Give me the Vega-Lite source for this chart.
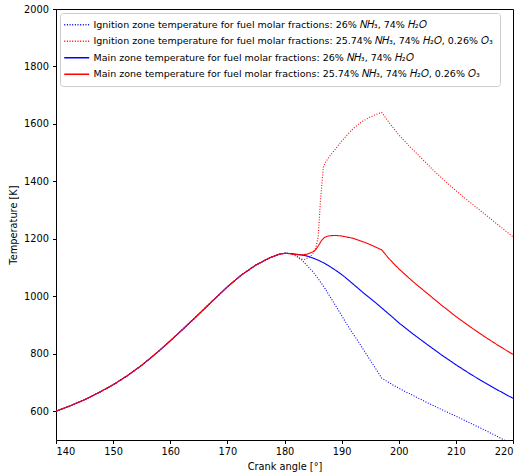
{
  "$schema": "https://vega.github.io/schema/vega-lite/v6.json",
  "width": 457,
  "height": 431,
  "autosize": {"type": "none"},
  "padding": {"left": 56, "top": 9, "right": 9, "bottom": 32},
  "config": {
    "font": "DejaVu Sans",
    "view": {"stroke": "#000000", "strokeWidth": 1},
    "axis": {
      "domain": false,
      "grid": false,
      "tickColor": "#000000",
      "tickSize": 3.5,
      "tickWidth": 1,
      "labelColor": "#000000",
      "labelFontSize": 9.8,
      "labelFont": "DejaVu Sans",
      "titleColor": "#000000",
      "titleFontSize": 9.8,
      "titleFont": "DejaVu Sans",
      "titleFontWeight": "normal"
    },
    "legend": {
      "labelFont": "DejaVu Sans",
      "labelFontSize": 9.5,
      "labelColor": "#000000",
      "labelLimit": 600
    }
  },
  "data": {
    "values": [
      {"series": "ign26", "angle": 140, "temperature": 600}, {"series": "ign26", "angle": 142.5, "temperature": 619},
      {"series": "ign26", "angle": 145, "temperature": 640}, {"series": "ign26", "angle": 147.5, "temperature": 665},
      {"series": "ign26", "angle": 150, "temperature": 692}, {"series": "ign26", "angle": 152.5, "temperature": 724},
      {"series": "ign26", "angle": 155, "temperature": 760}, {"series": "ign26", "angle": 157.5, "temperature": 801},
      {"series": "ign26", "angle": 160, "temperature": 845}, {"series": "ign26", "angle": 162.5, "temperature": 891},
      {"series": "ign26", "angle": 165, "temperature": 938}, {"series": "ign26", "angle": 167.5, "temperature": 986},
      {"series": "ign26", "angle": 170, "temperature": 1033}, {"series": "ign26", "angle": 172.5, "temperature": 1075},
      {"series": "ign26", "angle": 175, "temperature": 1109}, {"series": "ign26", "angle": 177.5, "temperature": 1135},
      {"series": "ign26", "angle": 179, "temperature": 1146}, {"series": "ign26", "angle": 180, "temperature": 1150},
      {"series": "ign26", "angle": 181, "temperature": 1149}, {"series": "ign26", "angle": 182, "temperature": 1144},
      {"series": "ign26", "angle": 183, "temperature": 1127}, {"series": "ign26", "angle": 184, "temperature": 1106},
      {"series": "ign26", "angle": 185, "temperature": 1085}, {"series": "ign26", "angle": 186, "temperature": 1058},
      {"series": "ign26", "angle": 187, "temperature": 1030}, {"series": "ign26", "angle": 188, "temperature": 998},
      {"series": "ign26", "angle": 189, "temperature": 966}, {"series": "ign26", "angle": 190, "temperature": 933},
      {"series": "ign26", "angle": 191, "temperature": 900}, {"series": "ign26", "angle": 192, "temperature": 870},
      {"series": "ign26", "angle": 193, "temperature": 840}, {"series": "ign26", "angle": 194, "temperature": 809},
      {"series": "ign26", "angle": 195, "temperature": 778}, {"series": "ign26", "angle": 196, "temperature": 747},
      {"series": "ign26", "angle": 197, "temperature": 716}, {"series": "ign26", "angle": 198, "temperature": 703},
      {"series": "ign26", "angle": 200, "temperature": 680}, {"series": "ign26", "angle": 202.5, "temperature": 655},
      {"series": "ign26", "angle": 205, "temperature": 630}, {"series": "ign26", "angle": 207.5, "temperature": 606},
      {"series": "ign26", "angle": 210, "temperature": 583}, {"series": "ign26", "angle": 212.5, "temperature": 559},
      {"series": "ign26", "angle": 215, "temperature": 535}, {"series": "ign26", "angle": 217.5, "temperature": 510},
      {"series": "ign26", "angle": 220, "temperature": 484},

      {"series": "ign2574", "angle": 140, "temperature": 600}, {"series": "ign2574", "angle": 142.5, "temperature": 619},
      {"series": "ign2574", "angle": 145, "temperature": 640}, {"series": "ign2574", "angle": 147.5, "temperature": 665},
      {"series": "ign2574", "angle": 150, "temperature": 692}, {"series": "ign2574", "angle": 152.5, "temperature": 724},
      {"series": "ign2574", "angle": 155, "temperature": 760}, {"series": "ign2574", "angle": 157.5, "temperature": 801},
      {"series": "ign2574", "angle": 160, "temperature": 845}, {"series": "ign2574", "angle": 162.5, "temperature": 891},
      {"series": "ign2574", "angle": 165, "temperature": 938}, {"series": "ign2574", "angle": 167.5, "temperature": 986},
      {"series": "ign2574", "angle": 170, "temperature": 1033}, {"series": "ign2574", "angle": 172.5, "temperature": 1075},
      {"series": "ign2574", "angle": 175, "temperature": 1109}, {"series": "ign2574", "angle": 177.5, "temperature": 1135},
      {"series": "ign2574", "angle": 179, "temperature": 1146}, {"series": "ign2574", "angle": 180, "temperature": 1150},
      {"series": "ign2574", "angle": 181, "temperature": 1149}, {"series": "ign2574", "angle": 182, "temperature": 1140},
      {"series": "ign2574", "angle": 182.7, "temperature": 1130}, {"series": "ign2574", "angle": 183.5, "temperature": 1128},
      {"series": "ign2574", "angle": 184.5, "temperature": 1138}, {"series": "ign2574", "angle": 185, "temperature": 1150},
      {"series": "ign2574", "angle": 185.5, "temperature": 1170}, {"series": "ign2574", "angle": 185.9, "temperature": 1207},
      {"series": "ign2574", "angle": 186.3, "temperature": 1335}, {"series": "ign2574", "angle": 186.8, "temperature": 1450},
      {"series": "ign2574", "angle": 187.2, "temperature": 1468}, {"series": "ign2574", "angle": 188, "temperature": 1490},
      {"series": "ign2574", "angle": 189, "temperature": 1515}, {"series": "ign2574", "angle": 190, "temperature": 1540},
      {"series": "ign2574", "angle": 191, "temperature": 1563}, {"series": "ign2574", "angle": 192, "temperature": 1583},
      {"series": "ign2574", "angle": 193, "temperature": 1600}, {"series": "ign2574", "angle": 194, "temperature": 1613},
      {"series": "ign2574", "angle": 195, "temperature": 1624}, {"series": "ign2574", "angle": 196, "temperature": 1633},
      {"series": "ign2574", "angle": 197, "temperature": 1640}, {"series": "ign2574", "angle": 198.5, "temperature": 1600},
      {"series": "ign2574", "angle": 200, "temperature": 1562}, {"series": "ign2574", "angle": 202, "temperature": 1520},
      {"series": "ign2574", "angle": 204, "temperature": 1480}, {"series": "ign2574", "angle": 206, "temperature": 1440},
      {"series": "ign2574", "angle": 208, "temperature": 1403}, {"series": "ign2574", "angle": 210, "temperature": 1368},
      {"series": "ign2574", "angle": 212, "temperature": 1335}, {"series": "ign2574", "angle": 214, "temperature": 1303},
      {"series": "ign2574", "angle": 216, "temperature": 1271}, {"series": "ign2574", "angle": 218, "temperature": 1239},
      {"series": "ign2574", "angle": 220, "temperature": 1207},

      {"series": "main26", "angle": 140, "temperature": 600}, {"series": "main26", "angle": 142.5, "temperature": 619},
      {"series": "main26", "angle": 145, "temperature": 640}, {"series": "main26", "angle": 147.5, "temperature": 665},
      {"series": "main26", "angle": 150, "temperature": 692}, {"series": "main26", "angle": 152.5, "temperature": 724},
      {"series": "main26", "angle": 155, "temperature": 760}, {"series": "main26", "angle": 157.5, "temperature": 801},
      {"series": "main26", "angle": 160, "temperature": 845}, {"series": "main26", "angle": 162.5, "temperature": 891},
      {"series": "main26", "angle": 165, "temperature": 938}, {"series": "main26", "angle": 167.5, "temperature": 986},
      {"series": "main26", "angle": 170, "temperature": 1033}, {"series": "main26", "angle": 172.5, "temperature": 1075},
      {"series": "main26", "angle": 175, "temperature": 1109}, {"series": "main26", "angle": 177.5, "temperature": 1135},
      {"series": "main26", "angle": 179, "temperature": 1146}, {"series": "main26", "angle": 180, "temperature": 1150},
      {"series": "main26", "angle": 181, "temperature": 1149}, {"series": "main26", "angle": 182, "temperature": 1147},
      {"series": "main26", "angle": 183, "temperature": 1144}, {"series": "main26", "angle": 184, "temperature": 1140},
      {"series": "main26", "angle": 185, "temperature": 1133}, {"series": "main26", "angle": 186, "temperature": 1125},
      {"series": "main26", "angle": 187, "temperature": 1115}, {"series": "main26", "angle": 188, "temperature": 1103},
      {"series": "main26", "angle": 189, "temperature": 1090}, {"series": "main26", "angle": 190, "temperature": 1076},
      {"series": "main26", "angle": 191, "temperature": 1060}, {"series": "main26", "angle": 192, "temperature": 1043},
      {"series": "main26", "angle": 193, "temperature": 1026}, {"series": "main26", "angle": 194, "temperature": 1009},
      {"series": "main26", "angle": 195, "temperature": 993}, {"series": "main26", "angle": 196, "temperature": 977},
      {"series": "main26", "angle": 197, "temperature": 960}, {"series": "main26", "angle": 198, "temperature": 943},
      {"series": "main26", "angle": 199, "temperature": 926}, {"series": "main26", "angle": 200, "temperature": 908},
      {"series": "main26", "angle": 202.5, "temperature": 869}, {"series": "main26", "angle": 205, "temperature": 832},
      {"series": "main26", "angle": 207.5, "temperature": 796}, {"series": "main26", "angle": 210, "temperature": 762},
      {"series": "main26", "angle": 212.5, "temperature": 730}, {"series": "main26", "angle": 215, "temperature": 700},
      {"series": "main26", "angle": 217.5, "temperature": 672}, {"series": "main26", "angle": 220, "temperature": 645},

      {"series": "main2574", "angle": 140, "temperature": 600}, {"series": "main2574", "angle": 142.5, "temperature": 619},
      {"series": "main2574", "angle": 145, "temperature": 640}, {"series": "main2574", "angle": 147.5, "temperature": 665},
      {"series": "main2574", "angle": 150, "temperature": 692}, {"series": "main2574", "angle": 152.5, "temperature": 724},
      {"series": "main2574", "angle": 155, "temperature": 760}, {"series": "main2574", "angle": 157.5, "temperature": 801},
      {"series": "main2574", "angle": 160, "temperature": 845}, {"series": "main2574", "angle": 162.5, "temperature": 891},
      {"series": "main2574", "angle": 165, "temperature": 938}, {"series": "main2574", "angle": 167.5, "temperature": 986},
      {"series": "main2574", "angle": 170, "temperature": 1033}, {"series": "main2574", "angle": 172.5, "temperature": 1075},
      {"series": "main2574", "angle": 175, "temperature": 1109}, {"series": "main2574", "angle": 177.5, "temperature": 1135},
      {"series": "main2574", "angle": 179, "temperature": 1146}, {"series": "main2574", "angle": 180, "temperature": 1150},
      {"series": "main2574", "angle": 181, "temperature": 1148}, {"series": "main2574", "angle": 182, "temperature": 1145},
      {"series": "main2574", "angle": 183, "temperature": 1144}, {"series": "main2574", "angle": 184, "temperature": 1147},
      {"series": "main2574", "angle": 185, "temperature": 1155}, {"series": "main2574", "angle": 185.5, "temperature": 1163},
      {"series": "main2574", "angle": 186, "temperature": 1178}, {"series": "main2574", "angle": 186.5, "temperature": 1195},
      {"series": "main2574", "angle": 187, "temperature": 1205}, {"series": "main2574", "angle": 187.5, "temperature": 1209},
      {"series": "main2574", "angle": 188, "temperature": 1211}, {"series": "main2574", "angle": 189, "temperature": 1212},
      {"series": "main2574", "angle": 190, "temperature": 1210}, {"series": "main2574", "angle": 191, "temperature": 1206},
      {"series": "main2574", "angle": 192, "temperature": 1202}, {"series": "main2574", "angle": 193, "temperature": 1195},
      {"series": "main2574", "angle": 194, "temperature": 1188}, {"series": "main2574", "angle": 195, "temperature": 1180},
      {"series": "main2574", "angle": 196, "temperature": 1171}, {"series": "main2574", "angle": 197, "temperature": 1162},
      {"series": "main2574", "angle": 198, "temperature": 1138}, {"series": "main2574", "angle": 199, "temperature": 1116},
      {"series": "main2574", "angle": 200, "temperature": 1096}, {"series": "main2574", "angle": 202.5, "temperature": 1051},
      {"series": "main2574", "angle": 205, "temperature": 1010}, {"series": "main2574", "angle": 207.5, "temperature": 969},
      {"series": "main2574", "angle": 210, "temperature": 930}, {"series": "main2574", "angle": 212.5, "temperature": 894},
      {"series": "main2574", "angle": 215, "temperature": 860}, {"series": "main2574", "angle": 217.5, "temperature": 828},
      {"series": "main2574", "angle": 220, "temperature": 798}
    ]
  },
  "mark": {"type": "line", "clip": true, "strokeWidth": 1.1},
  "encoding": {
    "x": {
      "field": "angle",
      "type": "quantitative",
      "scale": {"domain": [140, 220], "nice": false, "zero": false},
      "axis": {"values": [140, 150, 160, 170, 180, 190, 200, 210, 220], "format": "d", "title": "Crank angle [°]", "labelPadding": 3, "titlePadding": 5}
    },
    "y": {
      "field": "temperature",
      "type": "quantitative",
      "scale": {"domain": [500, 2000], "nice": false, "zero": false},
      "axis": {"values": [600, 800, 1000, 1200, 1400, 1600, 1800, 2000], "format": "d", "title": "Temperature [K]", "labelPadding": 4, "titlePadding": 5}
    },
    "color": {
      "field": "series",
      "type": "nominal",
      "scale": {
        "domain": ["ign26", "ign2574", "main26", "main2574"],
        "range": ["#0000ff", "#ff0000", "#0000ff", "#ff0000"]
      },
      "legend": {
        "title": null,
        "orient": "top-left",
        "offset": 4,
        "symbolType": "M-3,0H7",
        "symbolSize": 25,
        "symbolStrokeWidth": 1.5,
        "fillColor": "#ffffff",
        "strokeColor": "#cccccc",
        "cornerRadius": 3,
        "padding": 7,
        "rowPadding": 5.5,
        "labelOffset": 17,
        "labelExpr": "{'ign26': 'Ignition zone temperature for fuel molar fractions: 26% 𝑁𝐻₃, 74% 𝐻₂𝑂', 'ign2574': 'Ignition zone temperature for fuel molar fractions: 25.74% 𝑁𝐻₃, 74% 𝐻₂𝑂, 0.26% 𝑂₃', 'main26': 'Main zone temperature for fuel molar fractions: 26% 𝑁𝐻₃, 74% 𝐻₂𝑂', 'main2574': 'Main zone temperature for fuel molar fractions: 25.74% 𝑁𝐻₃, 74% 𝐻₂𝑂, 0.26% 𝑂₃'}[datum.value]"
      }
    },
    "strokeDash": {
      "field": "series",
      "type": "nominal",
      "scale": {
        "domain": ["ign26", "ign2574", "main26", "main2574"],
        "range": [[1, 1.65], [1, 1.65], [1, 0], [1, 0]]
      },
      "legend": null
    }
  }
}
